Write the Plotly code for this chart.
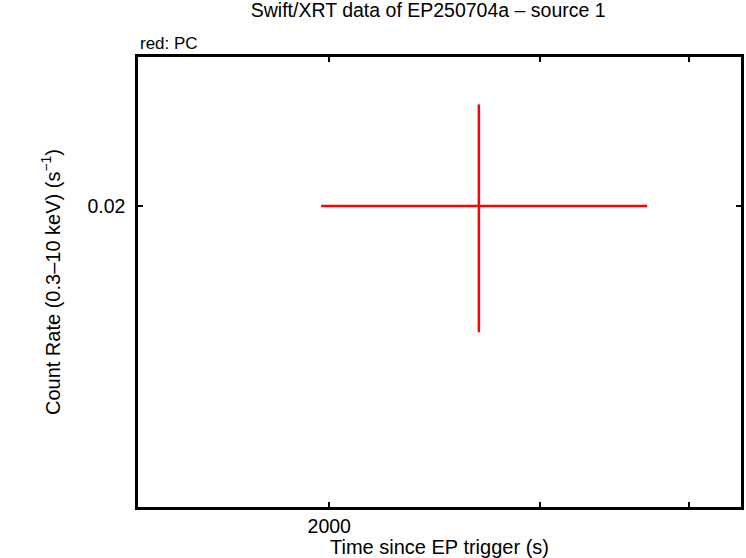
import plotly.graph_objects as go

# Data (PC mode)
time_s = [2668]
time_err_minus = [699]
time_err_plus = [1022]
rate = [0.0200]
rate_err_minus = [0.0043]
rate_err_plus = [0.0043]

x_tickvals = [2000, 3000, 4000]
x_ticktext = ["2000", "", ""]
y_tickvals = [0.02]
y_ticktext = ["0.02"]

font_family = "Liberation Sans, Arial, sans-serif"

fig = go.Figure()
fig.add_trace(go.Scatter(
    x=time_s, y=rate, mode="markers",
    marker=dict(size=1, color="red", opacity=0),
    error_x=dict(type="data", symmetric=False, array=time_err_plus,
                 arrayminus=time_err_minus, color="red", thickness=2.5, width=0),
    error_y=dict(type="data", symmetric=False, array=rate_err_plus,
                 arrayminus=rate_err_minus, color="red", thickness=2.5, width=0),
    showlegend=False,
))

fig.update_layout(
    width=746, height=558,
    margin=dict(l=138, r=5, t=57, b=51, autoexpand=False),
    paper_bgcolor="white", plot_bgcolor="white",
    font=dict(family=font_family, size=19, color="black"),
    title=dict(text="Swift/XRT data of EP250704a – source 1", x=0.574, xanchor="center",
               y=0.994, yanchor="top", font=dict(size=19.5)),
    annotations=[dict(text="red: PC", xref="paper", yref="paper", x=0, y=1.0,
                      xanchor="left", yanchor="bottom", showarrow=False,
                      font=dict(size=17), yshift=2)],
)
fig.update_xaxes(
    type="log", range=[3.141, 3.6455],
    tickvals=x_tickvals, ticktext=x_ticktext,
    ticks="inside", ticklen=5, tickwidth=2, tickcolor="black",
    showline=True, linewidth=2.5, linecolor="black", mirror="ticks",
    showgrid=False, zeroline=False, automargin=False,
    title=dict(text="Time since EP trigger (s)", standoff=0, font=dict(size=20)),
    tickfont=dict(size=19.5), ticklabelstandoff=0,
)
fig.update_yaxes(
    type="log", range=[-1.9497, -1.5749],
    tickvals=y_tickvals, ticktext=y_ticktext,
    ticks="inside", ticklen=5, tickwidth=2, tickcolor="black",
    showline=True, linewidth=2.5, linecolor="black", mirror="ticks",
    showgrid=False, zeroline=False, automargin=False,
    title=dict(text="Count Rate (0.3–10 keV) (s<sup>−1</sup>)", standoff=22, font=dict(size=20)),
    tickfont=dict(size=19.5), ticklabelstandoff=6,
)

fig.write_html(
    "out.html",
    config={"displayModeBar": False},
    post_script="document.body.style.margin='0';document.body.style.overflow='hidden';",
)
